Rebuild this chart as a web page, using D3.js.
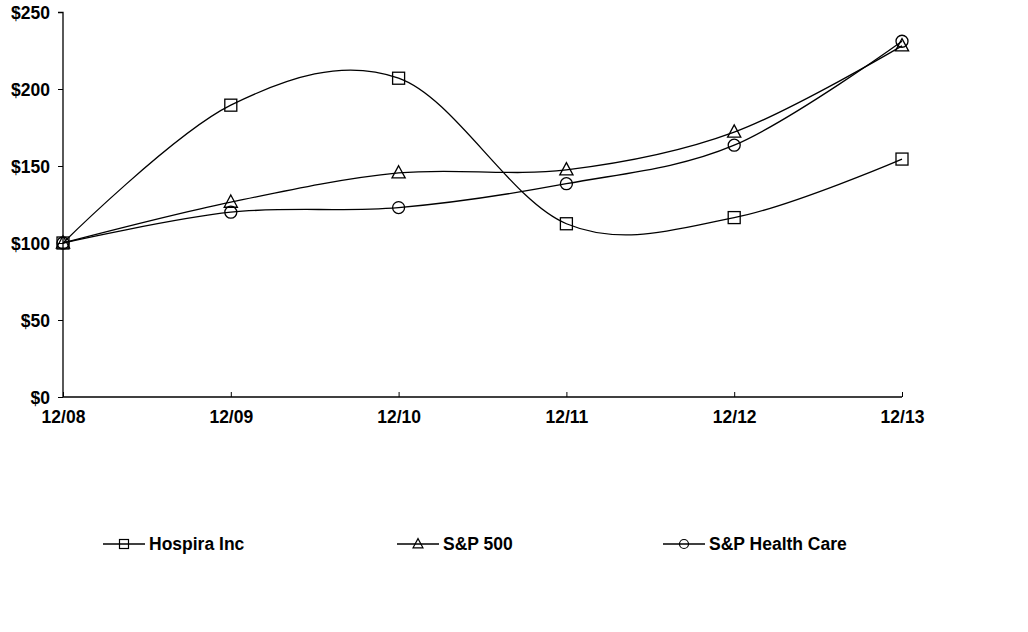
<!DOCTYPE html>
<html><head><meta charset="utf-8">
<script src="https://cdn.jsdelivr.net/npm/d3@7/dist/d3.min.js"></script>
<style>body{margin:0;background:#fff}text{font-family:Arial,"Liberation Sans",sans-serif;font-weight:bold;fill:#000}</style>
</head><body>
<svg id="c" width="1028" height="632"></svg>
<script>
const categories = ["12/08","12/09","12/10","12/11","12/12","12/13"];
const hospira = [100, 189.5, 207, 112.5, 116.5, 154.5];
const sp500 = [100, 126.5, 145.5, 147.5, 172, 228];
const healthCare = [100, 120, 123, 138.5, 163.5, 231];
const yTicks = [0, 50, 100, 150, 200, 250];
const seriesNames = ["Hospira Inc", "S&P 500", "S&P Health Care"];
const seriesMarkers = ["square", "triangle", "circle"];

const svg = d3.select("#c");
const x = d3.scalePoint().domain(categories).range([63, 902]);
const y = d3.scaleLinear().domain([0, 250]).range([397, 12]);

// axes
const ya = svg.append("g").attr("transform","translate(63,0)")
  .call(d3.axisLeft(y).tickValues(yTicks).tickSize(5).tickFormat(d=>"$"+d));
ya.attr("font-size",null).attr("font-family",null);
ya.select(".domain").attr("stroke","#000").attr("stroke-width",1.3).attr("d","M-5,12.5H0V397");
ya.selectAll("text").attr("x",-13).attr("dy","0.36em").style("font-size","17.5px");
const xa = svg.append("g").attr("transform","translate(0,397)")
  .call(d3.axisBottom(x).tickSize(-5).tickPadding(14));
xa.attr("font-size",null).attr("font-family",null);
xa.select(".domain").attr("stroke","#000").attr("stroke-width",1.5).attr("d","M63,0H902");
xa.selectAll("text").attr("dy","0.71em").style("font-size","17.5px");
svg.selectAll(".tick line").attr("stroke","#000");

const line = d3.line().x((d,i)=>x(categories[i])).y(d=>y(d)).curve(d3.curveCardinal.tension(0));
const data = [hospira, sp500, healthCare];

function marker(g, type, cx, cy, s){
  if(type==="square") g.append("rect").attr("x",cx-s/2).attr("y",cy-s/2).attr("width",s).attr("height",s);
  else if(type==="circle") g.append("circle").attr("cx",cx).attr("cy",cy).attr("r",s/2);
  else g.append("path").attr("d",`M${cx},${cy-s*0.6}L${cx+s*0.55},${cy+s*0.42}L${cx-s*0.55},${cy+s*0.42}Z`);
}

data.forEach((vals, k)=>{
  svg.append("path").attr("d", line(vals)).attr("fill","none").attr("stroke","#000").attr("stroke-width",1.3);
  const g = svg.append("g").attr("fill","none").attr("stroke","#000").attr("stroke-width",1.3);
  vals.forEach((v,i)=> marker(g, seriesMarkers[k], x(categories[i]), y(v), 12));
});

// legend
const legX = [103, 397, 663];
seriesNames.forEach((n,k)=>{
  const lg = svg.append("g");
  lg.append("line").attr("x1",legX[k]).attr("x2",legX[k]+42).attr("y1",544).attr("y2",544).attr("stroke","#000").attr("stroke-width",1.3);
  const mg = lg.append("g").attr("fill","none").attr("stroke","#000").attr("stroke-width",1.2);
  marker(mg, seriesMarkers[k], legX[k]+21, 544, 9);
  lg.append("text").attr("x",legX[k]+46).attr("y",544).attr("dy","0.36em").style("font-size","17.5px").text(n);
});
</script>
</body></html>
